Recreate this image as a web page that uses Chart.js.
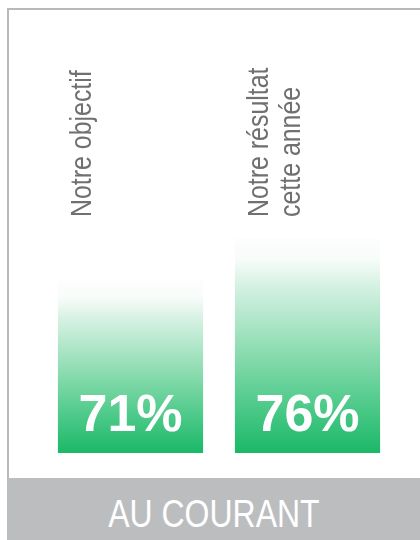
<!DOCTYPE html>
<html>
<head>
<meta charset="utf-8">
<script src="https://cdn.jsdelivr.net/npm/chart.js@4"></script>
<style>
  html, body { margin: 0; padding: 0; background: #fff; }
  #page { position: relative; width: 420px; height: 540px; overflow: hidden; }
  #frame {
    position: absolute; left: 7px; top: 8px; width: 413px; height: 470px;
    border-top: 2px solid #b9b9b9; border-left: 2px solid #b9b9b9; box-sizing: border-box;
  }
  #chart { position: absolute; left: 0; top: 0; }
  #banner {
    position: absolute; left: 7px; top: 478px; width: 413px; height: 57px;
    padding-top: 5px; background: #bcbdbf; color: #fff; text-align: center;
    font-family: "Liberation Sans", Arial, sans-serif;
    font-size: 39px; line-height: 62px;
  }
  #banner span { display: inline-block; transform: scaleX(0.82); white-space: nowrap; }
</style>
</head>
<body>
<div id="page">
  <div id="frame"></div>
  <canvas id="chart" width="420" height="478"></canvas>
  <div id="banner"><span id="bannerText"></span></div>
</div>
<script>
// chart data
const categories = [["Notre objectif"], ["Notre résultat", "cette année"]];
const values = [71, 76];
const valueLabels = ["71%", "76%"];
const bannerTitle = "AU COURANT";
const yMin = 51;
const yMax = 100;

document.getElementById("bannerText").textContent = bannerTitle;

/**
 * Vertical green-to-white fade for each bar, from its base to its top.
 */
function barGradient(context) {
  const chart = context.chart;
  if (!chart.chartArea || context.dataIndex == null) {
    return "#1bb868";
  }
  const y = chart.scales.y;
  const top = y.getPixelForValue(values[context.dataIndex]);
  const bottom = y.getPixelForValue(y.min);
  const g = chart.ctx.createLinearGradient(0, bottom, 0, top);
  g.addColorStop(0, "#1bb868");
  g.addColorStop(0.25, "#55cc8e");
  g.addColorStop(0.5, "#93deb5");
  g.addColorStop(0.78, "#d6f1e3");
  g.addColorStop(0.9, "#f7fcf9");
  g.addColorStop(1, "#fdfdfd");
  return g;
}

// Draws the rotated category labels above the bars and the values inside them
const barLabels = {
  id: "barLabels",
  afterDatasetsDraw(chart) {
    const ctx = chart.ctx;
    const meta = chart.getDatasetMeta(0);
    const base = chart.scales.y.getPixelForValue(yMin);
    meta.data.forEach((bar, i) => {
      // value inside the bar
      ctx.save();
      ctx.fillStyle = "#ffffff";
      ctx.font = 'bold 52px "Liberation Sans", Arial, sans-serif';
      ctx.textAlign = "center";
      ctx.textBaseline = "alphabetic";
      ctx.fillText(valueLabels[i], bar.x, base - 22);
      ctx.restore();

      // rotated category label, narrowed to look like a condensed face
      const lines = chart.data.labels[i];
      lines.forEach((line, j) => {
        ctx.save();
        ctx.translate(bar.x - 40 + j * 32, 217);
        ctx.rotate(-Math.PI / 2);
        ctx.scale(0.83, 1);
        ctx.fillStyle = "#6f7072";
        ctx.font = '30px "Liberation Sans", Arial, sans-serif';
        ctx.textAlign = "left";
        ctx.textBaseline = "alphabetic";
        ctx.fillText(line, 0, 0);
        ctx.restore();
      });
    });
  },
};

const canvas = document.getElementById("chart");
new Chart(canvas.getContext("2d"), {
  type: "bar",
  data: {
    labels: categories,
    datasets: [
      {
        data: values,
        backgroundColor: barGradient,
        borderWidth: 0,
        categoryPercentage: 1,
        barPercentage: 0.82,
      },
    ],
  },
  options: {
    responsive: false,
    animation: false,
    layout: { padding: { left: 42, right: 24, top: 32, bottom: 25 } },
    plugins: {
      legend: { display: false },
      tooltip: { enabled: false },
      title: { display: false },
    },
    scales: {
      x: { display: false },
      y: { display: false, min: yMin, max: yMax },
    },
  },
  plugins: [barLabels],
});
</script>
</body>
</html>
